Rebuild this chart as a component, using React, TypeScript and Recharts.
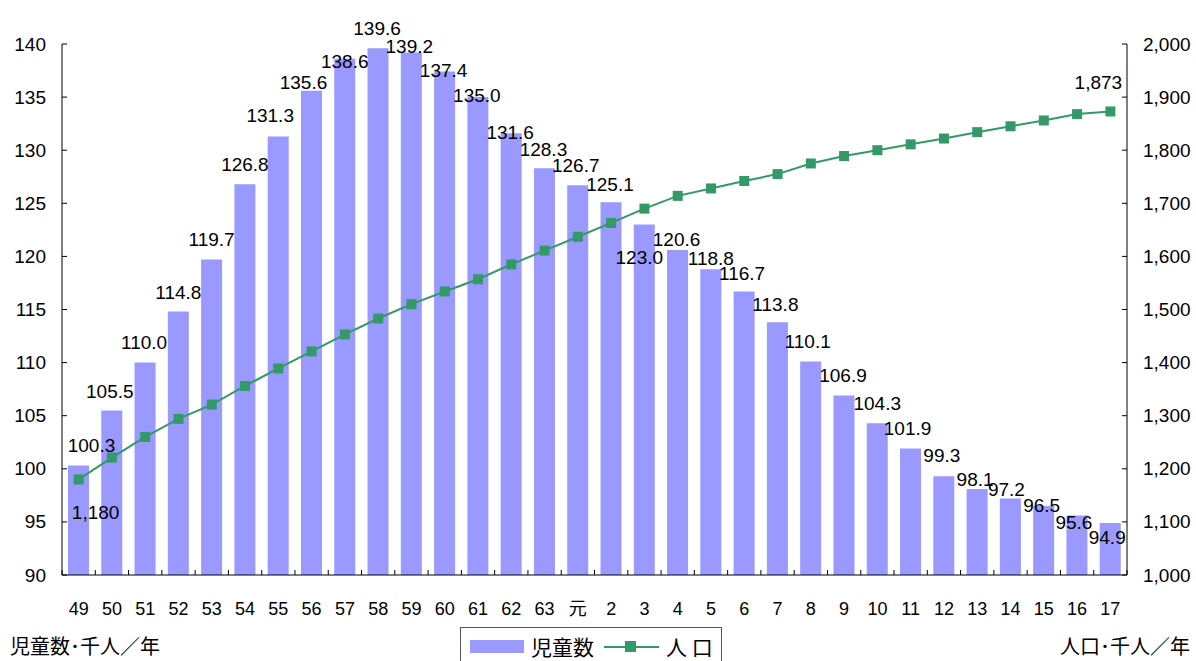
import React from 'react'
import { ComposedChart, Bar, Line, XAxis, YAxis, LabelList } from 'recharts'

// 年 (昭和49 … 平成17)
const years = [
  '49', '50', '51', '52', '53', '54', '55', '56', '57', '58', '59', '60', '61', '62', '63',
  '元', '2', '3', '4', '5', '6', '7', '8', '9', '10', '11', '12', '13', '14', '15', '16', '17',
]
// 児童数 (千人)
const childCounts = [
  100.3, 105.5, 110.0, 114.8, 119.7, 126.8, 131.3, 135.6, 138.6, 139.6, 139.2, 137.4, 135.0, 131.6, 128.3,
  126.7, 125.1, 123.0, 120.6, 118.8, 116.7, 113.8, 110.1, 106.9, 104.3, 101.9, 99.3, 98.1, 97.2, 96.5, 95.6, 94.9,
]
// 人口 (千人)
const population = [
  1180, 1221, 1260, 1294, 1321, 1356, 1389, 1421, 1453, 1483, 1510, 1534, 1557, 1585, 1611,
  1637, 1663, 1690, 1714, 1728, 1742, 1755, 1775, 1789, 1800, 1811, 1822, 1834, 1845, 1856, 1868, 1873,
]
const leftTicks = [90, 95, 100, 105, 110, 115, 120, 125, 130, 135, 140]
const rightTicks = [1000, 1100, 1200, 1300, 1400, 1500, 1600, 1700, 1800, 1900, 2000]

const barName = '児童数'
const lineName = '人 口'
const leftUnit = '児童数･千人／年'
const rightUnit = '人口･千人／年'

// labels were nudged by hand in the original sheet (px from bar top centre)
const barLabelDx = [13, -2, -1, 0, 0, 0, -8, -8, 0, -1, -2, -1, -1, -1, -1, -2, -1, -5, -1, 0, -2, -2, -3, -1, 0, -3, -2, -2, -4, -2, -3, -3]
const barLabelDy = [-20, -19, -20, -19, -20, -20, -21, -8, 3, -20, -6, -1, -2, -1, -19, -20, -18, 33, -11, -11, -18, -18, -20, -20, -20, -20, -21, -9, -9, 0, 7, 15]

const data = years.map((year, i) => ({ year, kids: childCounts[i], pop: population[i] }))

const W = 1196
const H = 661
const PLOT_LEFT = 62
const PLOT_RIGHT = 1127
const PLOT_TOP = 44
const PLOT_BOTTOM = 575
const HALF_BAND = (PLOT_RIGHT - PLOT_LEFT) / years.length / 2

const FONT = '"Liberation Sans", Arial, "Noto Sans CJK JP", sans-serif'
const CJK = '"Noto Sans CJK JP", "Liberation Sans", sans-serif'
const BAR_COLOR = '#9999ff'
const LINE_COLOR = '#339966'

const LeftTick = (p: any) => (
  <g>
    <line x1={PLOT_LEFT} x2={PLOT_LEFT + 5} y1={p.y} y2={p.y} stroke="#000" />
    <text x={PLOT_LEFT - 16} y={p.y} textAnchor="end" dominantBaseline="central" fontSize={19} fontFamily={FONT} fill="#000">
      {p.payload.value}
    </text>
  </g>
)

const RightTick = (p: any) => (
  <g>
    <line x1={PLOT_RIGHT - 5} x2={PLOT_RIGHT} y1={p.y} y2={p.y} stroke="#000" />
    <text x={PLOT_RIGHT + 16} y={p.y} textAnchor="start" dominantBaseline="central" fontSize={19} fontFamily={FONT} fill="#000">
      {Number(p.payload.value).toLocaleString('en-US')}
    </text>
  </g>
)

const BottomTick = (p: any) => {
  const last = p.index === years.length - 1
  return (
    <g>
      <line x1={p.x - HALF_BAND} x2={p.x - HALF_BAND} y1={PLOT_BOTTOM} y2={PLOT_BOTTOM - 5} stroke="#000" />
      {last && <line x1={p.x + HALF_BAND} x2={p.x + HALF_BAND} y1={PLOT_BOTTOM} y2={PLOT_BOTTOM - 5} stroke="#000" />}
      <text x={p.x} y={PLOT_BOTTOM + 34} textAnchor="middle" dominantBaseline="central" fontSize={18} fontFamily={FONT} fill="#000">
        {p.payload.value}
      </text>
    </g>
  )
}

const barLabel = (props: any) => {
  const { x, y, width, value, index } = props
  return (
    <text
      x={Number(x) + Number(width) / 2 + barLabelDx[index]}
      y={Number(y) + barLabelDy[index]}
      textAnchor="middle"
      dominantBaseline="central"
      fontSize={19}
      fontFamily={FONT}
      fill="#000"
    >
      {Number(value).toFixed(1)}
    </text>
  )
}

const lineLabel = (props: any) => {
  const { x, y, value, index } = props
  if (index !== 0 && index !== population.length - 1) return null
  const first = index === 0
  return (
    <text
      x={Number(x) + (first ? 17 : -12)}
      y={Number(y) + (first ? 33 : -29)}
      textAnchor="middle"
      dominantBaseline="central"
      fontSize={19}
      fontFamily={FONT}
      fill="#000"
    >
      {Number(value).toLocaleString('en-US')}
    </text>
  )
}

const squareDot = (p: any) => (
  <rect key={`d${p.index}`} x={p.cx - 5} y={p.cy - 5} width={10} height={10} fill={LINE_COLOR} />
)

export default function App() {
  return (
    <div style={{ position: 'absolute', left: 0, top: 0, width: W, height: H, background: '#fff', overflow: 'hidden' }}>
      <ComposedChart
        width={W}
        height={H}
        data={data}
        margin={{ top: PLOT_TOP, right: W - PLOT_RIGHT - 59, bottom: 0, left: 0 }}
      >
        <XAxis
          dataKey="year"
          interval={0}
          height={H - PLOT_BOTTOM}
          axisLine={{ stroke: '#000' }}
          tickLine={false}
          tick={BottomTick}
        />
        <YAxis
          yAxisId="left"
          domain={[90, 140]}
          ticks={leftTicks}
          allowDataOverflow
          width={PLOT_LEFT}
          axisLine={{ stroke: '#000' }}
          tickLine={false}
          tick={LeftTick}
        />
        <YAxis
          yAxisId="right"
          orientation="right"
          domain={[1000, 2000]}
          ticks={rightTicks}
          allowDataOverflow
          width={59}
          axisLine={{ stroke: '#000' }}
          tickLine={false}
          tick={RightTick}
        />
        <Bar yAxisId="left" dataKey="kids" name={barName} fill={BAR_COLOR} barSize={21} isAnimationActive={false}>
          <LabelList dataKey="kids" content={barLabel} />
        </Bar>
        <Line
          yAxisId="right"
          dataKey="pop"
          name={lineName}
          type="linear"
          stroke={LINE_COLOR}
          strokeWidth={2}
          dot={squareDot}
          activeDot={false}
          isAnimationActive={false}
        >
          <LabelList dataKey="pop" content={lineLabel} />
        </Line>
      </ComposedChart>

      {/* legend box, cut off by the bottom edge like the original */}
      <div
        style={{
          position: 'absolute',
          left: 460,
          top: 627,
          width: 262,
          height: 34,
          border: '1px solid #555',
          borderBottom: 'none',
          boxSizing: 'border-box',
          fontFamily: CJK,
          fontSize: 21,
          color: '#000',
        }}
      >
        <div style={{ position: 'absolute', left: 9, top: 12, width: 54, height: 13, background: BAR_COLOR }} />
        <div style={{ position: 'absolute', left: 70, top: 5, lineHeight: '26px', whiteSpace: 'nowrap' }}>{barName}</div>
        <div style={{ position: 'absolute', left: 143, top: 18, width: 55, height: 2, background: LINE_COLOR }} />
        <div style={{ position: 'absolute', left: 164, top: 13, width: 11, height: 11, background: LINE_COLOR }} />
        <div style={{ position: 'absolute', left: 205, top: 5, lineHeight: '26px', whiteSpace: 'pre' }}>{lineName}</div>
      </div>

      <div style={{ position: 'absolute', left: 10, top: 633, fontFamily: CJK, fontSize: 20, lineHeight: '26px', whiteSpace: 'nowrap' }}>
        {leftUnit}
      </div>
      <div style={{ position: 'absolute', right: 6, top: 633, fontFamily: CJK, fontSize: 20, lineHeight: '26px', whiteSpace: 'nowrap' }}>
        {rightUnit}
      </div>
    </div>
  )
}
